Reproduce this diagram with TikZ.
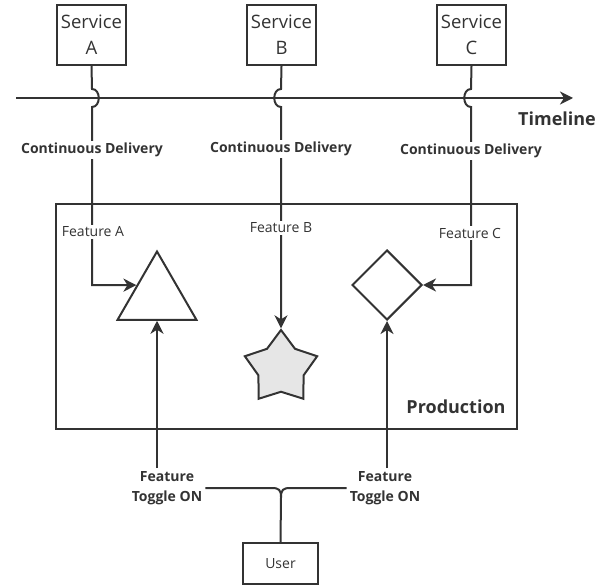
\documentclass[tikz,border=0pt]{standalone}
\usepackage{fontspec}
\setmainfont{Open Sans}
\usetikzlibrary{shapes.geometric,arrows.meta}
\definecolor{ink}{HTML}{333333}
\definecolor{starfill}{HTML}{E6E6E6}
\begin{document}
\begin{tikzpicture}[x=1pt,y=-1pt,
  box/.style={draw=ink, line width=2pt, inner sep=0pt, align=center, text=ink},
  svc/.style={box, minimum width=69pt, minimum height=60pt, font=\fontsize{18.5}{26}\selectfont},
  conn/.style={draw=ink, line width=2pt},
  arr/.style={conn, -{Stealth[length=13pt,width=13pt,inset=4pt]}},
  shp/.style={draw=ink, line width=2pt, inner sep=0pt},
  boldlbl/.style={text=ink, font=\fontsize{14}{20}\selectfont\bfseries, align=center},
  gaplbl/.style={fill=white, inner sep=2pt, text=ink},
]
\useasboundingbox (0,0) rectangle (601,585);

% services on top
\node[svc] (sA) at (91.5,35) {Service\\A};
\node[svc] (sB) at (281.5,35) {Service\\B};
\node[svc] (sC) at (471.5,35) {Service\\C};

% production environment
\node[box, minimum width=461pt, minimum height=225pt] (prod) at (286.5,316.5) {};
\node[text=ink, font=\fontsize{18}{22}\selectfont\bfseries] (prodlbl) at (456,407) {Production};

% features
\node[shp, regular polygon, regular polygon sides=3, minimum size=91pt] (tri) at (157,297) {};
\node[shp, star, star points=5, star point ratio=1.6, minimum size=76pt, fill=starfill] (star) at (281,368) {};
\node[shp, diamond, minimum size=70pt] (dia) at (387,285) {};

% timeline
\coordinate (tl0) at (16,98);
\coordinate (tl1) at (573,98);
\draw[arr] (tl0) -- (tl1);
\node[text=ink, font=\fontsize{18}{22}\selectfont\bfseries] (tllbl) at (557,119) {Timeline};

% delivery lines hopping over the timeline
\draw[arr] (sA.south) -- (92,89) .. controls (101,89) and (101,107) .. (92,107)
  -- (tri.side 1 -| 92,0) -- (tri.side 1);
\draw[arr] (sB.south) -- (281,89) .. controls (272,89) and (272,107) .. (281,107)
  -- (star.outer point 1);
\draw[arr] (sC.south) -- (471,89) .. controls (462,89) and (462,107) .. (471,107)
  -- (dia.east -| 471,0) -- (dia.east);

\node[boldlbl, gaplbl] (cdA) at (92,150) {Continuous Delivery};
\node[boldlbl, gaplbl] (cdB) at (281,149) {Continuous Delivery};
\node[boldlbl, gaplbl] (cdC) at (471,151) {Continuous Delivery};

\node[gaplbl, font=\fontsize{14}{18}\selectfont] (fA) at (93,232) {Feature A};
\node[gaplbl, font=\fontsize{14}{18}\selectfont] (fB) at (281,228) {Feature B};
\node[gaplbl, font=\fontsize{14}{18}\selectfont] (fC) at (470,233) {Feature C};

% user and toggles
\node[box, minimum width=75pt, minimum height=41pt, font=\fontsize{14}{18}\selectfont] (user) at (280.5,563.5) {User};
\node[boldlbl, inner sep=3pt] (tgA) at (167,488) {Feature\\Toggle ON};
\node[boldlbl, inner sep=3pt] (tgC) at (385,488) {Feature\\Toggle ON};

\draw[arr] (tri.side 2 |- tgA.north) -- (tri.side 2);
\draw[arr] (dia.south |- tgC.north) -- (dia.south);

\draw[conn] (tgA.east) -- (272,488) .. controls (279,488) and (281,490) .. (281,497) -- (user.north);
\draw[conn] (tgC.west) -- (290,488) .. controls (283,488) and (281,490) .. (281,497);
\end{tikzpicture}
\end{document}
